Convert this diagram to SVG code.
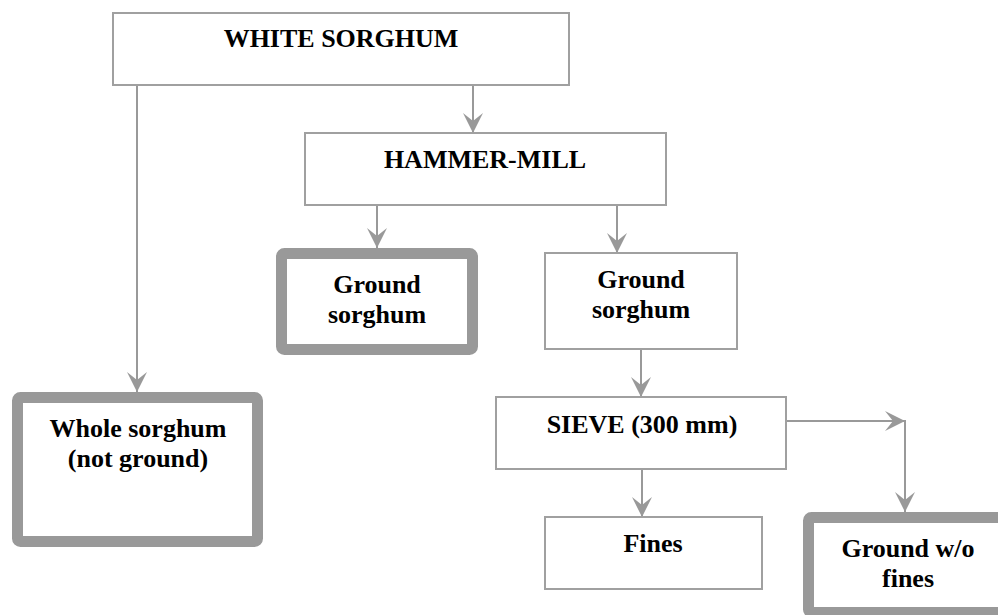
<svg xmlns="http://www.w3.org/2000/svg" width="998" height="615" viewBox="0 0 998 615">
<defs>
<marker id="ah" markerUnits="userSpaceOnUse" markerWidth="24" markerHeight="24" viewBox="-22 -12 24 24" refX="0" refY="0" orient="auto">
<path d="M0,0 L-20,-10 L-12,0 L-20,10 Z" fill="#999"/>
</marker>
</defs>
<style>
.box{fill:#fff;stroke:#a0a0a0;stroke-width:2}
.thick{fill:#fff;stroke:#999;stroke-width:11}
.t{font-family:"Liberation Serif","Times New Roman",serif;font-weight:bold;font-size:26px;fill:#000;text-anchor:middle}
.c{fill:none;stroke:#999;stroke-width:2}
</style>
<rect width="998" height="615" fill="#fff"/>
<g id="connectors">
<line class="c" x1="137" y1="85" x2="137" y2="392" marker-end="url(#ah)"/>
<line class="c" x1="473" y1="85" x2="473" y2="133" marker-end="url(#ah)"/>
<line class="c" x1="377" y1="205" x2="377" y2="248" marker-end="url(#ah)"/>
<line class="c" x1="617" y1="205" x2="617" y2="253" marker-end="url(#ah)"/>
<line class="c" x1="641" y1="349" x2="641" y2="397" marker-end="url(#ah)"/>
<line class="c" x1="642" y1="469" x2="642" y2="517" marker-end="url(#ah)"/>
<line class="c" x1="786" y1="421" x2="905" y2="421" marker-end="url(#ah)"/>
<line class="c" x1="905" y1="420" x2="905" y2="512" marker-end="url(#ah)"/>
</g>
<g id="white-sorghum">
<rect class="box" x="113" y="13" width="456" height="72"/>
<text class="t" x="341" y="47">WHITE SORGHUM</text>
</g>
<g id="hammer-mill">
<rect class="box" x="305" y="133" width="361" height="72"/>
<text class="t" x="485" y="168">HAMMER-MILL</text>
</g>
<g id="ground-sorghum-1">
<rect class="thick" x="281.5" y="253.5" width="191" height="96" rx="3"/>
<text class="t" x="377" y="293">Ground</text>
<text class="t" x="377" y="323">sorghum</text>
</g>
<g id="ground-sorghum-2">
<rect class="box" x="545" y="253" width="192" height="96"/>
<text class="t" x="641" y="288">Ground</text>
<text class="t" x="641" y="318">sorghum</text>
</g>
<g id="whole-sorghum">
<rect class="thick" x="17.5" y="397.5" width="240" height="144" rx="3"/>
<text class="t" x="138" y="437">Whole sorghum</text>
<text class="t" x="138" y="467">(not ground)</text>
</g>
<g id="sieve">
<rect class="box" x="496" y="397" width="290" height="72"/>
<text class="t" x="642" y="433">SIEVE (300 mm)</text>
</g>
<g id="fines">
<rect class="box" x="545" y="517" width="217" height="72"/>
<text class="t" x="653" y="552">Fines</text>
</g>
<g id="ground-wo-fines">
<rect class="thick" x="808.5" y="517.5" width="200" height="95" rx="3"/>
<text class="t" x="908" y="557">Ground w/o</text>
<text class="t" x="908" y="587">fines</text>
</g>
</svg>
